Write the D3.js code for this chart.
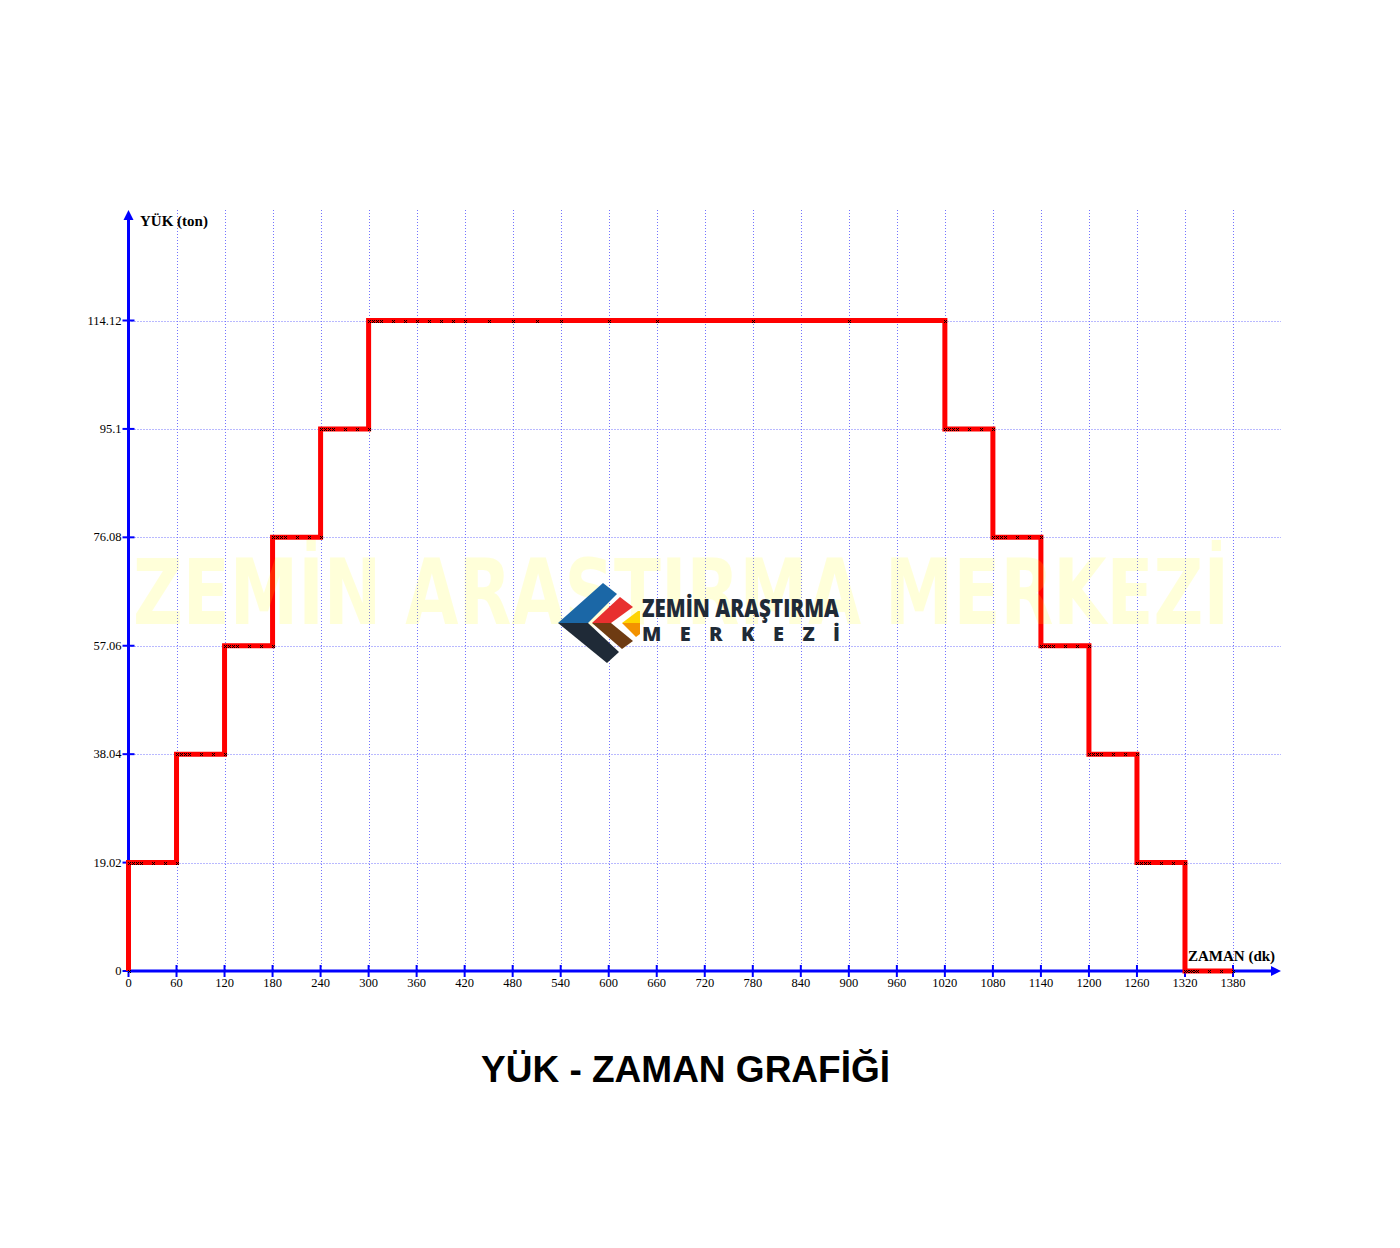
<!DOCTYPE html>
<html><head><meta charset="utf-8">
<script src="https://cdn.jsdelivr.net/npm/d3@7"></script>
<style>body{margin:0;background:#fff}svg{display:block}</style>
</head><body>
<svg id="c" width="1400" height="1248"></svg>
<script>
// ---- data ----
const stageStart = [0, 60, 120, 180, 240, 300, 1020, 1080, 1140, 1200, 1260, 1320];
const stageEnd   = [60, 120, 180, 240, 300, 1020, 1080, 1140, 1200, 1260, 1320, 1380];
const stageLoad  = [19.02, 38.04, 57.06, 76.08, 95.1, 114.12, 95.1, 76.08, 57.06, 38.04, 19.02, 0];
const readOffsetsStep = [0, 5, 10, 15, 30, 45, 60];
const readOffsetsHold = [0, 5, 10, 15, 30, 45, 60, 75, 90, 105, 120, 150, 180, 210, 240, 300, 360, 480, 600, 720];
const readOffsetsFinal = [0, 3, 6, 9, 12, 15, 30, 45, 60];
const yTicks = [0, 19.02, 38.04, 57.06, 76.08, 95.1, 114.12];
const yTickLabels = ["0", "19.02", "38.04", "57.06", "76.08", "95.1", "114.12"];
const xTicks = [0,60,120,180,240,300,360,420,480,540,600,660,720,780,840,900,960,1020,1080,1140,1200,1260,1320,1380];
const xTickLabels = ["0","60","120","180","240","300","360","420","480","540","600","660","720","780","840","900","960","1020","1080","1140","1200","1260","1320","1380"];
const title = "YÜK - ZAMAN GRAFİĞİ";
const yTitle = "YÜK (ton)";
const xTitle = "ZAMAN (dk)";
const watermark = "ZEMİN ARAŞTIRMA MERKEZİ";
const logoLine1 = "ZEMİN ARAŞTIRMA";
const logoLine2 = "MERKEZİ";

// ---- scales ----
const svg = d3.select("#c");
const x = d3.scaleLinear().domain([0, 1380]).range([128.5, 1233]);
const y = d3.scaleLinear().domain([0, 114.12]).range([971, 320.5]);
const x0 = x(0), y0 = y(0);
const xEnd = 1281, yTop = 210;
const gridColor = "#7373ff";

// grid
const g = svg.append("g");
g.selectAll(".vg").data(xTicks.filter(d => d > 0)).join("line")
  .attr("x1", d => Math.round(x(d)) + 0.5).attr("x2", d => Math.round(x(d)) + 0.5)
  .attr("y1", yTop).attr("y2", y0)
  .attr("stroke", gridColor).attr("stroke-width", 1).attr("stroke-dasharray", "1,2");
g.selectAll(".hg").data(yTicks.filter(d => d > 0)).join("line")
  .attr("x1", x0).attr("x2", xEnd)
  .attr("y1", d => Math.round(y(d)) + 0.5).attr("y2", d => Math.round(y(d)) + 0.5)
  .attr("stroke", gridColor).attr("stroke-width", 1).attr("stroke-dasharray", "1,2");

// axes
const ax = svg.append("g");
ax.append("line").attr("x1", x0).attr("x2", xEnd - 8).attr("y1", y0).attr("y2", y0)
  .attr("stroke", "#0000ff").attr("stroke-width", 3);
ax.append("path").attr("d", `M${xEnd},${y0}L${xEnd-10},${y0-5}L${xEnd-10},${y0+5}Z`).attr("fill", "#0000ff");
ax.append("line").attr("x1", x0).attr("x2", x0).attr("y1", y0).attr("y2", yTop + 8)
  .attr("stroke", "#0000ff").attr("stroke-width", 3);
ax.append("path").attr("d", `M${x0},${yTop}L${x0-5},${yTop+10}L${x0+5},${yTop+10}Z`).attr("fill", "#0000ff");

// ticks
ax.selectAll(".yt").data(yTicks).join("line")
  .attr("x1", x0 - 6).attr("x2", x0 + 6)
  .attr("y1", d => y(d)).attr("y2", d => y(d))
  .attr("stroke", "#0000ff").attr("stroke-width", 2);
ax.selectAll(".xt").data(xTicks).join("line")
  .attr("x1", d => x(d)).attr("x2", d => x(d))
  .attr("y1", y0 - 6).attr("y2", y0 + 6)
  .attr("stroke", "#0000ff").attr("stroke-width", 2);
ax.selectAll(".yl").data(yTicks).join("text")
  .attr("x", x0 - 7).attr("y", d => y(d) + 4)
  .attr("text-anchor", "end").attr("font-family", "Liberation Serif, Times New Roman, serif")
  .attr("font-size", 12.5).attr("fill", "#000")
  .text((d, i) => yTickLabels[i]);
ax.selectAll(".xl").data(xTicks).join("text")
  .attr("x", d => x(d)).attr("y", y0 + 16)
  .attr("text-anchor", "middle").attr("font-family", "Liberation Serif, Times New Roman, serif")
  .attr("font-size", 12.5).attr("fill", "#000")
  .text((d, i) => xTickLabels[i]);

// axis titles
svg.append("text").attr("x", 140).attr("y", 226)
  .attr("font-family", "Liberation Serif, Times New Roman, serif").attr("font-weight", "bold")
  .attr("font-size", 15).attr("fill", "#000").text(yTitle);
svg.append("text").attr("x", 1188).attr("y", 961)
  .attr("font-family", "Liberation Serif, Times New Roman, serif").attr("font-weight", "bold")
  .attr("font-size", 15).attr("fill", "#000").text(xTitle);

// step line
const pts = [[0, 0]].concat(stageStart.map((s, i) => [s, stageLoad[i]]));
pts.push([stageEnd[stageEnd.length - 1], stageLoad[stageLoad.length - 1]]);
const line = d3.line().x(d => x(d[0])).y(d => y(d[1])).curve(d3.curveStepAfter);
svg.append("path").attr("d", line(pts)).attr("fill", "none")
  .attr("stroke", "#ff0000").attr("stroke-width", 5).attr("stroke-linejoin", "miter");

// readings markers
const readings = [[0, 0]];
stageStart.forEach((s, i) => {
  const offs = (i === 5) ? readOffsetsHold : (i === stageStart.length - 1 ? readOffsetsFinal : readOffsetsStep);
  offs.forEach(o => readings.push([s + o, stageLoad[i]]));
});
svg.append("g").selectAll("path").data(readings).join("path")
  .attr("transform", d => `translate(${Math.round(x(d[0])) + 0.5},${Math.round(y(d[1])) + 0.5})`)
  .attr("d", "M-1.5,-1.5L1.5,1.5M-1.5,1.5L1.5,-1.5")
  .attr("stroke", "#000").attr("stroke-width", 1).attr("fill", "none");

// watermark
svg.append("text").attr("x", 133).attr("y", 624)
  .attr("font-family", "DejaVu Sans, sans-serif").attr("font-weight", "bold")
  .attr("font-size", 90).attr("textLength", 1096).attr("lengthAdjust", "spacingAndGlyphs")
  .attr("fill", "#ffff00").attr("fill-opacity", 0.15).text(watermark);

// logo
const logo = svg.append("g");
const shapes = [
  {c: "#1b67a6", p: [[558,623],[603,583],[617,594],[588,623]]},
  {c: "#1f2a37", p: [[558,623],[588,623],[619,652],[607,663]]},
  {c: "#e8302f", p: [[592,623],[620,597],[633,607],[611,623]]},
  {c: "#6e3b12", p: [[592,623],[611,623],[633,641],[622,649]]},
  {c: "#ffd400", p: [[622,623],[638,611],[640,611],[640,623]]},
  {c: "#f39200", p: [[622,623],[640,623],[640,634],[636,637]]}
];
logo.selectAll("path").data(shapes).join("path")
  .attr("d", d => "M" + d.p.map(q => q.join(",")).join("L") + "Z").attr("fill", d => d.c);
logo.append("text").attr("x", 642).attr("y", 617)
  .attr("font-family", "Open Sans, sans-serif").attr("font-weight", 800)
  .attr("font-size", 25).attr("textLength", 197).attr("lengthAdjust", "spacingAndGlyphs")
  .attr("fill", "#1f2a37").text(logoLine1);
logo.append("text").attr("x", 642).attr("y", 641)
  .attr("font-family", "Open Sans, sans-serif").attr("font-weight", 800)
  .attr("font-size", 20).attr("textLength", 198).attr("lengthAdjust", "spacing")
  .attr("fill", "#1f2a37").text(logoLine2);

// title
svg.append("text").attr("x", 685.5).attr("y", 1082).attr("text-anchor", "middle")
  .attr("font-family", "Liberation Sans, Arial, sans-serif").attr("font-weight", "bold")
  .attr("font-size", 37).attr("fill", "#000").text(title);
</script>
</body></html>
